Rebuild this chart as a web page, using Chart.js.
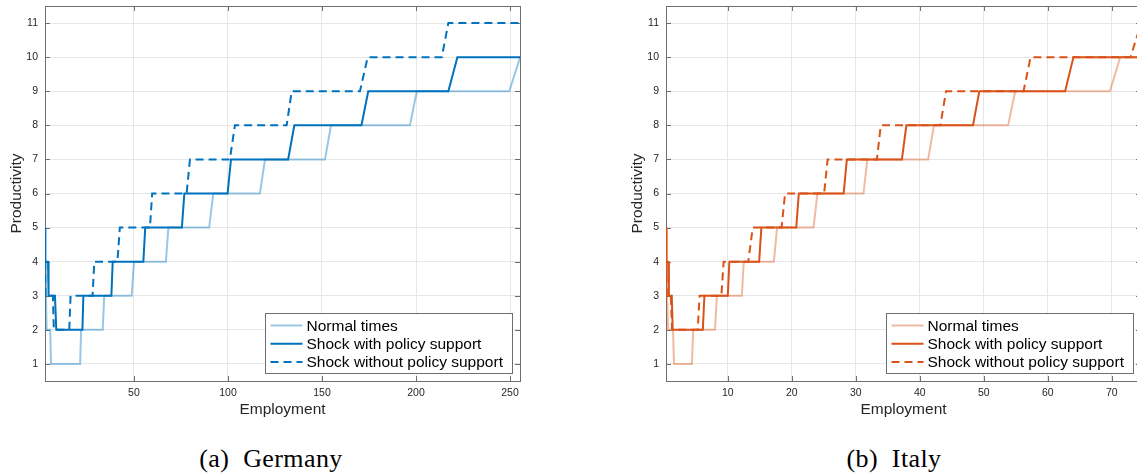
<!DOCTYPE html>
<html>
<head>
<meta charset="utf-8">
<script src="https://cdn.jsdelivr.net/npm/chart.js@4.4.1/dist/chart.umd.min.js"></script>
<style>
  html, body { margin: 0; padding: 0; background: #fff; overflow: hidden; }
  body { width: 1137px; height: 476px; position: relative; }
  canvas { position: absolute; top: 0; }
  #deChart { left: 0; }
  #itChart { left: 621px; }
  .cap { position: absolute; top: 444px; font-family: "Liberation Serif", serif; font-size: 26px; color: #000; white-space: nowrap; transform: translateX(-50%); letter-spacing: 0.4px; }
</style>
</head>
<body>
<canvas id="deChart" width="540" height="424"></canvas>
<canvas id="itChart" width="540" height="424"></canvas>
<div class="cap" style="left:271px">(a)&nbsp; Germany</div>
<div class="cap" style="left:894px">(b)&nbsp; Italy</div>
<script>
const seriesLabels = ['Normal times', 'Shock with policy support', 'Shock without policy support'];
const yTicks = [1, 2, 3, 4, 5, 6, 7, 8, 9, 10, 11];

// Germany
const deXTicks = [50, 100, 150, 200, 250];
const deNormalX = [2.7, 3.2, 3.6, 5.5, 5.9, 21.4, 21.9, 33.4, 34.2, 48.8, 50.0, 67.0, 68.3, 90.0, 92.2, 117.0, 119.7, 151.6, 154.8, 196.8, 200.4, 249.6, 255.4];
const deNormalY = [4, 3, 2, 2, 1, 1, 2, 2, 3, 3, 4, 4, 5, 5, 6, 6, 7, 7, 8, 8, 9, 9, 10];
const dePolicyX = [2.7, 2.9, 4.3, 4.6, 8.0, 8.7, 22.6, 23.1, 38.0, 38.7, 55.0, 56.0, 75.5, 76.8, 99.8, 101.6, 132.0, 135.3, 171.0, 174.6, 217.2, 222.0, 256];
const dePolicyY = [5, 4, 4, 3, 3, 2, 2, 3, 3, 4, 4, 5, 5, 6, 6, 7, 7, 8, 8, 9, 9, 10, 10];
const deShockX = [2.7, 3.0, 6.9, 7.4, 15.6, 16.3, 28.0, 28.9, 41.2, 42.5, 58.5, 59.7, 78.0, 79.8, 101.0, 103.7, 131.2, 133.9, 170.2, 174.3, 213.7, 217.2, 256];
const deShockY = [4, 3, 3, 2, 2, 3, 3, 4, 4, 5, 5, 6, 6, 7, 7, 8, 8, 9, 9, 10, 10, 11, 11];

// Italy
const itXTicks = [10, 20, 30, 40, 50, 60, 70];
const itNormalX = [0.35, 0.5, 0.7, 1.45, 1.6, 4.4, 4.6, 8.0, 8.3, 12.2, 12.5, 17.2, 17.7, 23.4, 24.0, 31.2, 31.8, 41.3, 42.2, 53.8, 54.9, 69.7, 71.3, 75];
const itNormalY = [4, 3, 2, 2, 1, 1, 2, 2, 3, 3, 4, 4, 5, 5, 6, 6, 7, 7, 8, 8, 9, 9, 10, 10];
const itPolicyX = [0.35, 0.45, 0.7, 0.8, 1.25, 1.4, 6.1, 6.35, 10.0, 10.25, 14.9, 15.25, 20.7, 21.1, 28.1, 28.6, 37.2, 37.9, 48.3, 49.3, 62.7, 64.0, 75];
const itPolicyY = [5, 4, 4, 3, 3, 2, 2, 3, 3, 4, 4, 5, 5, 6, 6, 7, 7, 8, 8, 9, 9, 10, 10];
const itShockX = [0.35, 0.5, 1.1, 1.3, 5.3, 5.6, 9.0, 9.35, 13.2, 13.9, 18.4, 18.95, 25.05, 25.6, 33.3, 33.9, 43.2, 44.1, 56.2, 57.3, 72.9, 74.6, 76];
const itShockY = [4, 3, 3, 2, 2, 3, 3, 4, 4, 5, 5, 6, 6, 7, 7, 8, 8, 9, 9, 10, 10, 11, 11];

const font = 'Liberation Sans, Helvetica, Arial, sans-serif';
const axisColor = '#262626';

function toPoints(xs, ys) {
    return xs.map((x, i) => ({ x: x, y: ys[i] }));
}

// MATLAB style box with inward ticks on all four sides (under the lines)
const boxPlugin = {
    id: 'box',
    beforeDatasetsDraw(chart) {
        const { ctx, chartArea: a, scales: { x, y } } = chart;
        ctx.save();
        ctx.strokeStyle = '#6f6f6f';
        ctx.lineWidth = 1;
        ctx.beginPath();
        x.ticks.forEach(t => {
            const px = Math.round(x.getPixelForValue(t.value)) + 0.5;
            ctx.moveTo(px, a.bottom); ctx.lineTo(px, a.bottom - 5);
            ctx.moveTo(px, a.top); ctx.lineTo(px, a.top + 5);
        });
        y.ticks.forEach(t => {
            const py = Math.round(y.getPixelForValue(t.value)) + 0.5;
            ctx.moveTo(a.left, py); ctx.lineTo(a.left + 5, py);
            ctx.moveTo(a.right, py); ctx.lineTo(a.right - 5, py);
        });
        ctx.stroke();
        ctx.strokeRect(Math.round(a.left) + 0.5, Math.round(a.top) + 0.5, Math.round(a.right - a.left), Math.round(a.bottom - a.top));
        ctx.restore();
    }
};

// legend box inside the plot, bottom right
const boxLegend = {
    id: 'boxLegend',
    afterDraw(chart) {
        const { ctx, chartArea: a } = chart;
        const w = 247, h = 60;
        const left = Math.round(a.right - 8.5 - w) + 0.5;
        const top = Math.round(a.bottom - 8.5 - h) + 0.5;
        ctx.save();
        ctx.fillStyle = '#fff';
        ctx.fillRect(left, top, w, h);
        ctx.strokeStyle = '#6f6f6f';
        ctx.lineWidth = 1;
        ctx.strokeRect(left, top, w, h);
        ctx.font = '15.5px ' + font;
        ctx.textBaseline = 'middle';
        chart.data.datasets.forEach((ds, i) => {
            const cy = top + 12 + i * 18.3;
            ctx.strokeStyle = ds.borderColor;
            ctx.lineWidth = ds.borderWidth;
            ctx.setLineDash(ds.borderDash || []);
            ctx.beginPath();
            ctx.moveTo(left + 5, cy);
            ctx.lineTo(left + 37, cy);
            ctx.stroke();
            ctx.setLineDash([]);
            ctx.fillStyle = '#000';
            ctx.fillText(ds.label, left + 41, cy + 1);
        });
        ctx.restore();
    }
};

function makeChart(id, xMin, xMax, xTicks, normal, policy, shock, rgb) {
    const ctx = document.getElementById(id).getContext('2d');
    const gridSettings = { color: '#e6e6e6', drawTicks: false, lineWidth: 1 };
    return new Chart(ctx, {
        type: 'line',
        data: {
            datasets: [
                { label: seriesLabels[0], data: normal, borderColor: 'rgba(' + rgb + ',0.4)', borderWidth: 2, order: 3 },
                { label: seriesLabels[1], data: policy, borderColor: 'rgb(' + rgb + ')', borderWidth: 2, order: 2 },
                { label: seriesLabels[2], data: shock, borderColor: 'rgb(' + rgb + ')', borderWidth: 2, borderDash: [8, 5], order: 1 },
            ]
        },
        options: {
            responsive: false,
            animation: false,
            events: [],
            elements: { point: { radius: 0 }, line: { tension: 0, borderJoinStyle: 'miter' } },
            layout: { padding: { top: 6, right: 20, left: 0, bottom: 0 } },
            plugins: { legend: { display: false }, tooltip: { enabled: false } },
            scales: {
                x: {
                    type: 'linear', min: xMin, max: xMax,
                    grid: gridSettings,
                    border: { display: false },
                    afterBuildTicks: s => { s.ticks = xTicks.map(v => ({ value: v })); },
                    afterFit: s => { s.height = 43; },
                    ticks: { autoSkip: false, maxRotation: 0, padding: 6, color: axisColor, font: { family: font, size: 10.5 } },
                    title: { display: true, text: 'Employment', color: axisColor, font: { family: font, size: 15.5 }, padding: { top: 1, bottom: 5 } }
                },
                y: {
                    type: 'linear', min: 0.5, max: 11.5,
                    grid: gridSettings,
                    border: { display: false },
                    afterBuildTicks: s => { s.ticks = yTicks.map(v => ({ value: v })); },
                    afterFit: s => { s.width = 45; s.paddingTop = 0; s.paddingBottom = 0; },
                    ticks: { autoSkip: false, padding: 7, color: axisColor, font: { family: font, size: 10.5 } },
                    title: { display: true, text: 'Productivity', color: axisColor, font: { family: font, size: 15.5 }, padding: { top: 7, bottom: 1 } }
                }
            }
        },
        plugins: [boxPlugin, boxLegend]
    });
}

makeChart('deChart', 2.7, 255.3, deXTicks,
    toPoints(deNormalX, deNormalY), toPoints(dePolicyX, dePolicyY), toPoints(deShockX, deShockY), '0,114,189');
makeChart('itChart', 0.35, 74.55, itXTicks,
    toPoints(itNormalX, itNormalY), toPoints(itPolicyX, itPolicyY), toPoints(itShockX, itShockY), '217,83,25');
</script>
</body>
</html>
